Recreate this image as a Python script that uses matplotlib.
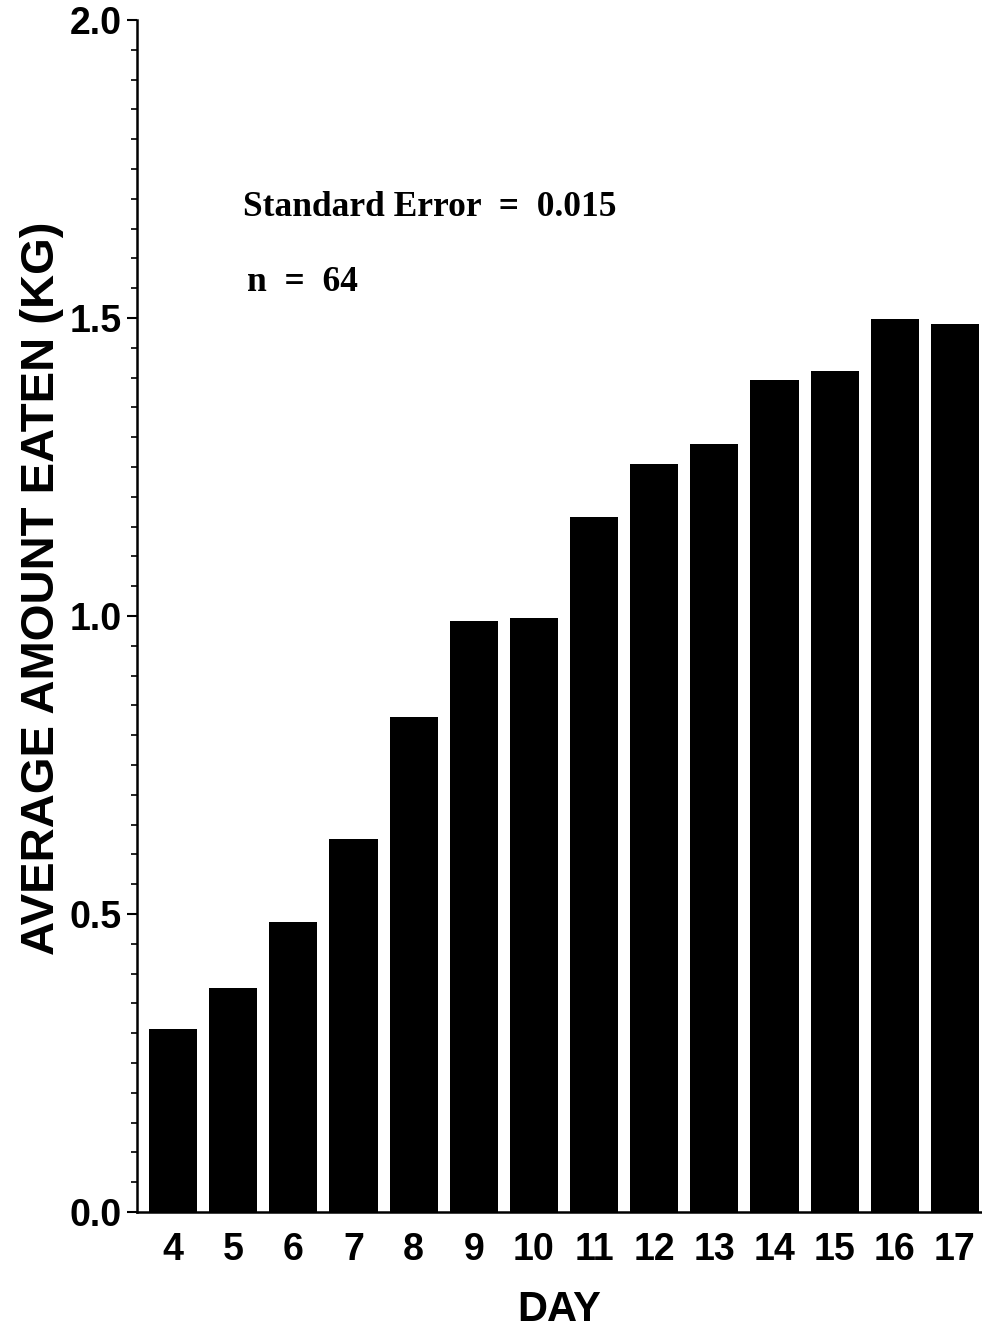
import numpy as np
import matplotlib
matplotlib.use('Agg')
import matplotlib.pyplot as plt
from matplotlib.ticker import MultipleLocator

# values
days = [4, 5, 6, 7, 8, 9, 10, 11, 12, 13, 14, 15, 16, 17]
avg_eaten = [0.307, 0.376, 0.487, 0.626, 0.831, 0.992, 0.997, 1.166, 1.255, 1.289,
             1.396, 1.411, 1.498, 1.490]
y_ticks = [0.0, 0.5, 1.0, 1.5, 2.0]

label_font = ['Liberation Sans', 'DejaVu Sans']
note_font = ['Liberation Serif', 'DejaVu Serif']

fig = plt.figure(figsize=(9.82, 13.28), dpi=100)
ax = fig.add_axes([0.1395, 0.0873, 0.8605, 0.8977])

ax.bar(days, avg_eaten, width=0.8, color='black')

ax.set_xlim(3.4, 17.45)
ax.set_ylim(0, 2.0)
ax.set_xticks(days)
ax.set_xticklabels([str(d) for d in days], fontsize=27, fontweight='bold', family=label_font)
ax.set_yticks(y_ticks)
ax.set_yticklabels([f'{v:.1f}' for v in y_ticks], fontsize=27, fontweight='bold', family=label_font)
ax.yaxis.set_minor_locator(MultipleLocator(0.05))
ax.tick_params(axis='x', length=0, pad=14)
ax.tick_params(axis='y', which='major', length=7, width=1.5, pad=4)
ax.tick_params(axis='y', which='minor', length=4, width=1.2)

for side in ['top', 'right']:
    ax.spines[side].set_visible(False)
ax.spines['left'].set_linewidth(1.8)
ax.spines['bottom'].set_linewidth(1.8)

ax.set_xlabel('DAY', fontsize=30, fontweight='bold', family=label_font, labelpad=16)
ax.set_ylabel('AVERAGE AMOUNT EATEN (KG)', fontsize=34, fontweight='bold', family=label_font, labelpad=4)
ax.yaxis.label.set_y(0.523)  # label sits a bit above the axis centre

ax.text(0.125, 0.843, 'Standard Error  =  0.015', transform=ax.transAxes,
        fontsize=25.5, fontweight='bold', family=note_font, va='center')
ax.text(0.13, 0.780, 'n  =  64', transform=ax.transAxes,
        fontsize=25.5, fontweight='bold', family=note_font, va='center')

fig.savefig('out.png', dpi=100)
